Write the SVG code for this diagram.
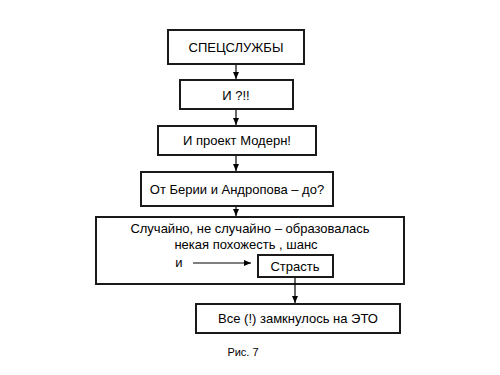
<svg xmlns="http://www.w3.org/2000/svg" width="500" height="375" viewBox="0 0 500 375">
<style>
.box{fill:#fff;stroke:#1a1a1a;stroke-width:2}
.t{font-family:"Liberation Sans",Arial,sans-serif;font-size:13px;fill:#000;text-anchor:middle;dominant-baseline:central}
.c{stroke:#000;stroke-width:1.2;fill:none;marker-end:url(#ah)}
</style>
<defs>
<marker id="ah" markerWidth="7" markerHeight="6" refX="7" refY="3" orient="auto" markerUnits="userSpaceOnUse">
<path d="M0,0 L7,3 L0,6 Z" fill="#000"/>
</marker>
</defs>
<rect width="500" height="375" fill="#fff"/>
<g id="n1"><rect class="box" x="168" y="30" width="136" height="34"/><text class="t" x="236" y="47">СПЕЦСЛУЖБЫ</text></g>
<g id="n2"><rect class="box" x="180" y="80" width="113" height="29"/><text class="t" x="236" y="95">И ?!!</text></g>
<g id="n3"><rect class="box" x="158" y="126" width="158" height="29"/><text class="t" x="237" y="140">И проект Модерн!</text></g>
<g id="n4"><rect class="box" x="141" y="172" width="192" height="34"/><text class="t" x="237" y="189">От Берии и Андропова – до?</text></g>
<g id="n5"><rect class="box" x="96" y="217" width="308" height="67"/>
<text class="t" x="250" y="228">Случайно, не случайно – образовалась</text>
<text class="t" x="246" y="244">некая похожесть , шанс</text>
<text class="t" x="179" y="262">и</text></g>
<g id="n6"><rect class="box" x="258" y="255" width="75" height="22"/><text class="t" x="295" y="266">Страсть</text></g>
<g id="n7"><rect class="box" x="196" y="304" width="204" height="29"/><text class="t" x="298" y="318">Все (!) замкнулось на ЭТО</text></g>
<text class="t" x="243" y="352" style="font-size:11px">Рис. 7</text>
<g id="connectors">
<line class="c" x1="236" y1="65" x2="236" y2="79"/>
<line class="c" x1="236" y1="110" x2="236" y2="125"/>
<line class="c" x1="236" y1="156" x2="236" y2="171"/>
<line class="c" x1="236" y1="207" x2="236" y2="216"/>
<line class="c" x1="193" y1="263" x2="251" y2="263"/>
<line class="c" x1="295" y1="278" x2="295" y2="303"/>
</g>
</svg>
